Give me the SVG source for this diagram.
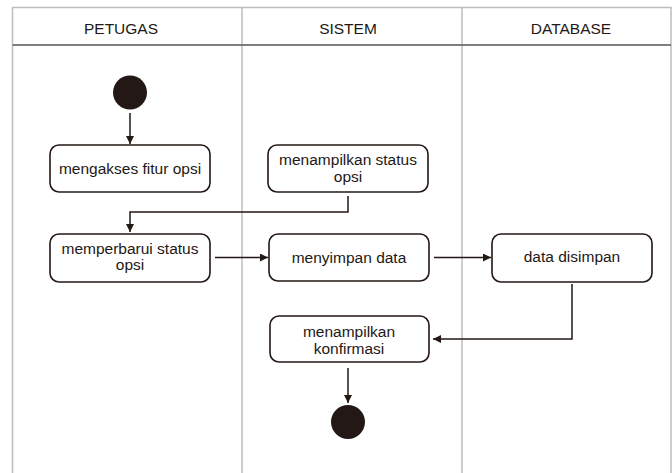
<svg xmlns="http://www.w3.org/2000/svg" width="672" height="473" viewBox="0 0 672 473">
<defs>
<marker id="ah" viewBox="0 0 10 10" refX="10" refY="5" markerWidth="8" markerHeight="8" markerUnits="userSpaceOnUse" orient="auto">
<path d="M0,0 L10,5 L0,10 z" fill="#231815"/>
</marker>
<style>
.lane{fill:none;stroke:#bdbdbd;stroke-width:1.5}
.hdr{fill:none;stroke:#5a5550;stroke-width:1.5}
.box{fill:#ffffff;stroke:#231815;stroke-width:1.6}
.t{font-family:"Liberation Sans",Arial,sans-serif;font-size:15.5px;fill:#231815;text-anchor:middle}
.h{font-family:"Liberation Sans",Arial,sans-serif;font-size:15.5px;fill:#231815;text-anchor:middle}
.c{fill:none;stroke:#231815;stroke-width:1.5}
.dot{fill:#231815}
</style>
</defs>
<rect width="672" height="473" fill="#ffffff"/>
<g id="swimlanes">
<path class="lane" d="M12.5,480 V7.5 H671 V480"/>
<line class="lane" x1="242" y1="7.5" x2="242" y2="480"/>
<line class="lane" x1="462" y1="7.5" x2="462" y2="480"/>
<line class="hdr" x1="12.5" y1="45" x2="671" y2="45"/>
<text class="h" x="121" y="34">PETUGAS</text>
<text class="h" x="348" y="34">SISTEM</text>
<text class="h" x="571" y="34">DATABASE</text>
</g>
<g id="connectors">
<line class="c" x1="130" y1="113" x2="130" y2="144" marker-end="url(#ah)"/>
<polyline class="c" points="348,196 348,212 130,212 130,232" marker-end="url(#ah)"/>
<line class="c" x1="215" y1="257.5" x2="268" y2="257.5" marker-end="url(#ah)"/>
<line class="c" x1="434" y1="257.5" x2="491" y2="257.5" marker-end="url(#ah)"/>
<polyline class="c" points="572,284 572,339 433,339" marker-end="url(#ah)"/>
<line class="c" x1="348" y1="368" x2="348" y2="403" marker-end="url(#ah)"/>
</g>
<g id="start"><circle class="dot" cx="130" cy="92.5" r="17"/></g>
<g id="n1">
<rect class="box" x="50" y="145" width="160" height="47" rx="9"/>
<text class="t" x="130" y="174">mengakses fitur opsi</text>
</g>
<g id="n2">
<rect class="box" x="268" y="145" width="160" height="47" rx="9"/>
<text class="t" x="348" y="165">menampilkan status</text>
<text class="t" x="348" y="181.5">opsi</text>
</g>
<g id="n3">
<rect class="box" x="50" y="234" width="160" height="48" rx="9"/>
<text class="t" x="130" y="253.5">memperbarui status</text>
<text class="t" x="130" y="270">opsi</text>
</g>
<g id="n4">
<rect class="box" x="269" y="234" width="160" height="47" rx="9"/>
<text class="t" x="349" y="263">menyimpan data</text>
</g>
<g id="n5">
<rect class="box" x="492" y="234" width="160" height="48" rx="9"/>
<text class="t" x="572" y="262">data disimpan</text>
</g>
<g id="n6">
<rect class="box" x="270" y="316" width="159" height="46" rx="9"/>
<text class="t" x="349" y="337">menampilkan</text>
<text class="t" x="349" y="354">konfirmasi</text>
</g>
<g id="end"><circle class="dot" cx="348" cy="422" r="17"/></g>
</svg>
